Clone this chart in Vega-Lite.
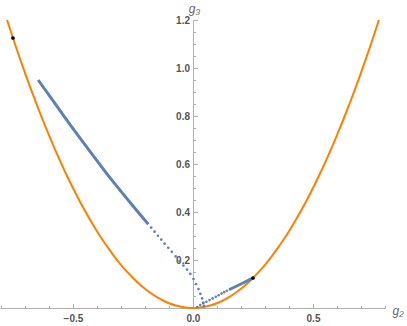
{
  "$schema": "https://vega.github.io/schema/vega-lite/v6.json",
  "width": 385,
  "height": 288,
  "autosize": "none",
  "padding": {"left": 0, "top": 20, "right": 22, "bottom": 18},
  "background": "white",
  "config": {"view": {"stroke": null}},
  "datasets": {
    "curve": [
      {"g2": -0.7746, "g3": 1.2}, {"g2": -0.75, "g3": 1.125}, {"g2": -0.725, "g3": 1.05125}, {"g2": -0.7, "g3": 0.98},
      {"g2": -0.675, "g3": 0.91125}, {"g2": -0.65, "g3": 0.845}, {"g2": -0.625, "g3": 0.78125}, {"g2": -0.6, "g3": 0.72},
      {"g2": -0.575, "g3": 0.66125}, {"g2": -0.55, "g3": 0.605}, {"g2": -0.525, "g3": 0.55125}, {"g2": -0.5, "g3": 0.5},
      {"g2": -0.475, "g3": 0.45125}, {"g2": -0.45, "g3": 0.405}, {"g2": -0.425, "g3": 0.36125}, {"g2": -0.4, "g3": 0.32},
      {"g2": -0.375, "g3": 0.28125}, {"g2": -0.35, "g3": 0.245}, {"g2": -0.325, "g3": 0.21125}, {"g2": -0.3, "g3": 0.18},
      {"g2": -0.275, "g3": 0.15125}, {"g2": -0.25, "g3": 0.125}, {"g2": -0.225, "g3": 0.10125}, {"g2": -0.2, "g3": 0.08},
      {"g2": -0.175, "g3": 0.06125}, {"g2": -0.15, "g3": 0.045}, {"g2": -0.125, "g3": 0.03125}, {"g2": -0.1, "g3": 0.02},
      {"g2": -0.075, "g3": 0.01125}, {"g2": -0.05, "g3": 0.005}, {"g2": -0.025, "g3": 0.00125}, {"g2": 0, "g3": 0},
      {"g2": 0.025, "g3": 0.00125}, {"g2": 0.05, "g3": 0.005}, {"g2": 0.075, "g3": 0.01125}, {"g2": 0.1, "g3": 0.02},
      {"g2": 0.125, "g3": 0.03125}, {"g2": 0.15, "g3": 0.045}, {"g2": 0.175, "g3": 0.06125}, {"g2": 0.2, "g3": 0.08},
      {"g2": 0.225, "g3": 0.10125}, {"g2": 0.25, "g3": 0.125}, {"g2": 0.275, "g3": 0.15125}, {"g2": 0.3, "g3": 0.18},
      {"g2": 0.325, "g3": 0.21125}, {"g2": 0.35, "g3": 0.245}, {"g2": 0.375, "g3": 0.28125}, {"g2": 0.4, "g3": 0.32},
      {"g2": 0.425, "g3": 0.36125}, {"g2": 0.45, "g3": 0.405}, {"g2": 0.475, "g3": 0.45125}, {"g2": 0.5, "g3": 0.5},
      {"g2": 0.525, "g3": 0.55125}, {"g2": 0.55, "g3": 0.605}, {"g2": 0.575, "g3": 0.66125}, {"g2": 0.6, "g3": 0.72},
      {"g2": 0.625, "g3": 0.78125}, {"g2": 0.65, "g3": 0.845}, {"g2": 0.675, "g3": 0.91125}, {"g2": 0.7, "g3": 0.98},
      {"g2": 0.725, "g3": 1.05125}, {"g2": 0.75, "g3": 1.125}, {"g2": 0.7746, "g3": 1.2}
    ],
    "dense": [
      {"seg": "a", "g2": -0.645, "g3": 0.95}, {"seg": "a", "g2": -0.57, "g3": 0.845}, {"seg": "a", "g2": -0.499, "g3": 0.746},
      {"seg": "a", "g2": -0.4, "g3": 0.614}, {"seg": "a", "g2": -0.346, "g3": 0.543}, {"seg": "a", "g2": -0.3, "g3": 0.486},
      {"seg": "a", "g2": -0.25, "g3": 0.425}, {"seg": "a", "g2": -0.186, "g3": 0.349},
      {"seg": "b", "g2": 0.15, "g3": 0.076}, {"seg": "b", "g2": 0.2, "g3": 0.1}, {"seg": "b", "g2": 0.248, "g3": 0.124}
    ],
    "dots": [
      {"g2": -0.174, "g3": 0.335}, {"g2": -0.16, "g3": 0.318}, {"g2": -0.146, "g3": 0.301},
      {"g2": -0.132, "g3": 0.285}, {"g2": -0.118, "g3": 0.268}, {"g2": -0.103, "g3": 0.251}, {"g2": -0.088, "g3": 0.234},
      {"g2": -0.072, "g3": 0.215}, {"g2": -0.056, "g3": 0.196}, {"g2": -0.04, "g3": 0.177}, {"g2": -0.025, "g3": 0.16},
      {"g2": -0.011, "g3": 0.142}, {"g2": 0.002, "g3": 0.121}, {"g2": 0.013, "g3": 0.1}, {"g2": 0.023, "g3": 0.079},
      {"g2": 0.031, "g3": 0.059}, {"g2": 0.038, "g3": 0.04}, {"g2": 0.043, "g3": 0.023}, {"g2": 0.046, "g3": 0.008},
      {"g2": 0.018, "g3": 0.004}, {"g2": 0.03, "g3": 0.012}, {"g2": 0.043, "g3": 0.019}, {"g2": 0.056, "g3": 0.026},
      {"g2": 0.069, "g3": 0.033}, {"g2": 0.082, "g3": 0.04}, {"g2": 0.095, "g3": 0.047}, {"g2": 0.107, "g3": 0.053},
      {"g2": 0.119, "g3": 0.06}, {"g2": 0.13, "g3": 0.066}, {"g2": 0.141, "g3": 0.072}
    ],
    "marks": [
      {"g2": -0.75, "g3": 1.125}, {"g2": 0.25, "g3": 0.125}
    ]
  },
  "encoding": {
    "x": {
      "field": "g2", "type": "quantitative",
      "scale": {"domain": [-0.804, 0.8], "nice": false, "zero": false},
      "axis": {
        "title": "g₂",
        "titleX": 392, "titleY": 2, "titleAlign": "left", "titleBaseline": "middle", "titleAngle": 0,
        "titleFont": "Liberation Sans", "titleFontStyle": "italic", "titleFontWeight": "normal", "titleFontSize": 12, "titleColor": "#666666",
        "values": [-0.8, -0.7, -0.6, -0.5, -0.4, -0.3, -0.2, -0.1, 0, 0.1, 0.2, 0.3, 0.4, 0.5, 0.6, 0.7, 0.8],
        "format": ".1f",
        "labelExpr": "abs(datum.value*2 - round(datum.value*2)) < 1e-6 ? datum.label : ''",
        "labelFont": "Liberation Sans", "labelFontSize": 10, "labelColor": "#555555", "labelFontWeight": "bold",
        "labelPadding": 10, "labelFlush": false, "labelOverlap": false,
        "grid": false, "domainColor": "#b0b0b0", "domainWidth": 1, "tickColor": "#b0b0b0",
        "tickSize": {"condition": {"test": "abs(datum.value*2 - round(datum.value*2)) < 1e-6", "value": -4.5}, "value": -2.5}
      }
    },
    "y": {
      "field": "g3", "type": "quantitative",
      "scale": {"domain": [0, 1.2], "nice": false, "zero": false},
      "axis": {
        "title": "g₃",
        "offset": -193,
        "titleX": 1, "titleY": -12, "titleAlign": "center", "titleBaseline": "middle", "titleAngle": 0,
        "titleFont": "Liberation Sans", "titleFontStyle": "italic", "titleFontWeight": "normal", "titleFontSize": 12, "titleColor": "#666666",
        "values": [0.05, 0.1, 0.15, 0.2, 0.25, 0.3, 0.35, 0.4, 0.45, 0.5, 0.55, 0.6, 0.65, 0.7, 0.75, 0.8, 0.85, 0.9, 0.95, 1.0, 1.05, 1.1, 1.15, 1.2],
        "format": ".1f",
        "labelExpr": "abs(datum.value*5 - round(datum.value*5)) < 1e-6 ? datum.label : ''",
        "labelFont": "Liberation Sans", "labelFontSize": 10, "labelColor": "#555555", "labelFontWeight": "bold",
        "labelPadding": 8, "labelFlush": false, "labelOverlap": false,
        "grid": false, "domainColor": "#b0b0b0", "domainWidth": 1, "tickColor": "#b0b0b0",
        "tickSize": {"condition": {"test": "abs(datum.value*5 - round(datum.value*5)) < 1e-6", "value": -4.5}, "value": -2.5}
      }
    }
  },
  "layer": [
    {"data": {"name": "curve"}, "mark": {"type": "line", "color": "#FF8000", "strokeWidth": 2, "clip": false, "interpolate": "monotone"}},
    {"data": {"name": "dense"}, "mark": {"type": "line", "color": "#5E81B5", "strokeWidth": 3, "clip": false, "interpolate": "monotone"}, "encoding": {"detail": {"field": "seg"}}},
    {"data": {"name": "dots"}, "mark": {"type": "circle", "color": "#5E81B5", "size": 7, "opacity": 1, "clip": false}},
    {"data": {"name": "marks"}, "mark": {"type": "circle", "color": "black", "size": 14, "opacity": 1, "clip": false}}
  ]
}
